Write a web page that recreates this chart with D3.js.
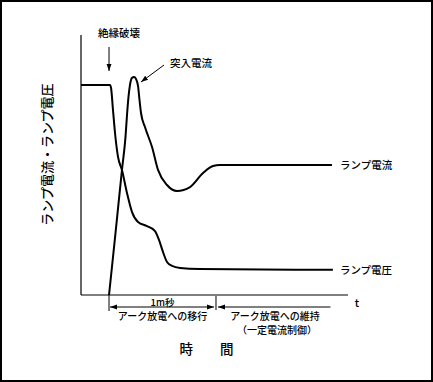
<!DOCTYPE html>
<html>
<head>
<meta charset="utf-8">
<script src="https://cdn.jsdelivr.net/npm/d3@7/dist/d3.min.js"></script>
<style>
  html, body { margin: 0; padding: 0; background: #fff; }
  svg { display: block; }
  text { font-family: "Noto Sans CJK JP", "Noto Sans", sans-serif; fill: #000; font-weight: 500; }
</style>
</head>
<body>
<script>
// time in ms (0 = dielectric breakdown), value relative (0..1)
const voltage = [
  [-0.262, 0.808], [0.009, 0.808], [0.019, 0.796], [0.037, 0.712], [0.056, 0.623],
  [0.084, 0.531], [0.121, 0.481], [0.168, 0.392], [0.215, 0.319], [0.271, 0.281],
  [0.355, 0.265], [0.430, 0.246], [0.467, 0.212], [0.505, 0.165], [0.542, 0.127],
  [0.589, 0.112], [0.664, 0.104], [0.850, 0.100], [2.093, 0.097]
];
const current = [
  [0.000, 0.000], [0.061, 0.240], [0.121, 0.481], [0.154, 0.608], [0.168, 0.692],
  [0.182, 0.762], [0.196, 0.808], [0.215, 0.835], [0.234, 0.838], [0.252, 0.831],
  [0.271, 0.804], [0.285, 0.750], [0.299, 0.700], [0.336, 0.646], [0.402, 0.569],
  [0.458, 0.481], [0.542, 0.423], [0.636, 0.400], [0.757, 0.415], [0.879, 0.469],
  [0.972, 0.496], [1.037, 0.500], [2.084, 0.500]
];
const seriesLabels = ["ランプ電流", "ランプ電圧"];
const yLabel = "ランプ電流・ランプ電圧";
const xLabel = "時　　間";
const xEndLabel = "t";
const breakdownLabel = "絶縁破壊";
const inrushLabel = "突入電流";
const durationLabel = "1m秒";
const phaseTimes = [0, 1, 2.07];
const phaseLabels = ["アーク放電への移行", "アーク放電への維持", "（一定電流制御）"];

const W = 433, H = 382;
const svg = d3.select("body").append("svg").attr("width", W).attr("height", H);

// frame
svg.append("rect").attr("x", 1).attr("y", 1).attr("width", W - 2).attr("height", H - 2)
  .attr("fill", "none").attr("stroke", "#000").attr("stroke-width", 2);

const x = d3.scaleLinear().domain([-0.262, 2.234]).range([81, 348]);
const y = d3.scaleLinear().domain([0, 1]).range([295, 35]);

const defs = svg.append("defs");
defs.append("marker").attr("id", "ah").attr("viewBox", "0 0 10 10")
  .attr("refX", 10).attr("refY", 5).attr("markerWidth", 7).attr("markerHeight", 7)
  .attr("markerUnits", "userSpaceOnUse").attr("orient", "auto-start-reverse")
  .append("path").attr("d", "M0,1.5 L10,5 L0,8.5 Z").attr("fill", "#000");

// axes
svg.append("line").attr("x1", x(-0.262)).attr("x2", x(-0.262)).attr("y1", y(1)).attr("y2", y(0))
  .attr("stroke", "#000").attr("stroke-width", 1.2);
svg.append("line").attr("x1", x(-0.262)).attr("x2", x(2.234)).attr("y1", y(0)).attr("y2", y(0))
  .attr("stroke", "#000").attr("stroke-width", 1.2);

const line = d3.line().x(d => x(d[0])).y(d => y(d[1])).curve(d3.curveMonotoneX);
svg.append("path").datum(voltage).attr("d", line).attr("fill", "none")
  .attr("stroke", "#000").attr("stroke-width", 2);
svg.append("path").datum(current).attr("d", line).attr("fill", "none")
  .attr("stroke", "#000").attr("stroke-width", 2);

// series labels
svg.append("text").attr("x", x(current[current.length - 1][0]) + 8).attr("y", y(0.5))
  .attr("dy", "0.36em").attr("font-size", 10.5).text(seriesLabels[0]);
svg.append("text").attr("x", x(voltage[voltage.length - 1][0]) + 7).attr("y", y(0.097))
  .attr("dy", "0.36em").attr("font-size", 10.5).text(seriesLabels[1]);

// y label
svg.append("text").attr("transform", `translate(47,${(y(0.82) + y(0.26)) / 2}) rotate(-90)`)
  .attr("text-anchor", "middle").attr("dy", "0.36em").attr("font-size", 13).text(yLabel);

// x end label and x label
svg.append("text").attr("x", 357).attr("y", y(0) + 8).attr("dy", "0.36em")
  .attr("text-anchor", "middle").attr("font-size", 11).text(xEndLabel);
svg.append("text").attr("x", 206.5).attr("y", 349).attr("dy", "0.36em")
  .attr("text-anchor", "middle").attr("font-size", 13.5).text(xLabel);

// breakdown annotation
svg.append("text").attr("x", x(0) + 10).attr("y", 33).attr("dy", "0.36em")
  .attr("text-anchor", "middle").attr("font-size", 10.5).text(breakdownLabel);
svg.append("line").attr("x1", x(0)).attr("x2", x(0)).attr("y1", 47).attr("y2", 71)
  .attr("stroke", "#000").attr("stroke-width", 1).attr("marker-end", "url(#ah)");

// inrush annotation
svg.append("text").attr("x", 191).attr("y", 63).attr("dy", "0.36em")
  .attr("text-anchor", "middle").attr("font-size", 10.5).text(inrushLabel);
svg.append("line").attr("x1", 164).attr("y1", 65).attr("x2", 141).attr("y2", 82)
  .attr("stroke", "#000").attr("stroke-width", 1).attr("marker-end", "url(#ah)");

// phase ticks & arrows
const arrowY = 307;
svg.append("line").attr("x1", x(phaseTimes[0])).attr("x2", x(phaseTimes[0]))
  .attr("y1", y(0)).attr("y2", 311).attr("stroke", "#000").attr("stroke-width", 1);
svg.append("line").attr("x1", x(phaseTimes[1])).attr("x2", x(phaseTimes[1]))
  .attr("y1", y(0) + 1).attr("y2", 310).attr("stroke", "#000").attr("stroke-width", 1);
svg.append("line").attr("x1", x(phaseTimes[0]) + 1).attr("x2", x(phaseTimes[1]) - 2)
  .attr("y1", arrowY).attr("y2", arrowY).attr("stroke", "#000").attr("stroke-width", 1)
  .attr("marker-start", "url(#ah)").attr("marker-end", "url(#ah)");
svg.append("line").attr("x1", x(phaseTimes[1]) + 2).attr("x2", x(phaseTimes[2]))
  .attr("y1", arrowY).attr("y2", arrowY).attr("stroke", "#000").attr("stroke-width", 1)
  .attr("marker-start", "url(#ah)");

svg.append("text").attr("x", x(0.5)).attr("y", 302.5).attr("dy", "0.36em")
  .attr("text-anchor", "middle").attr("font-size", 9.5).text(durationLabel);
svg.append("text").attr("x", x(0.5)).attr("y", 316).attr("dy", "0.36em")
  .attr("text-anchor", "middle").attr("font-size", 10).text(phaseLabels[0]);
svg.append("text").attr("x", 275).attr("y", 316).attr("dy", "0.36em")
  .attr("text-anchor", "middle").attr("font-size", 10).text(phaseLabels[1]);
svg.append("text").attr("x", 277).attr("y", 330.5).attr("dy", "0.36em")
  .attr("text-anchor", "middle").attr("font-size", 10).text(phaseLabels[2]);
</script>
</body>
</html>
